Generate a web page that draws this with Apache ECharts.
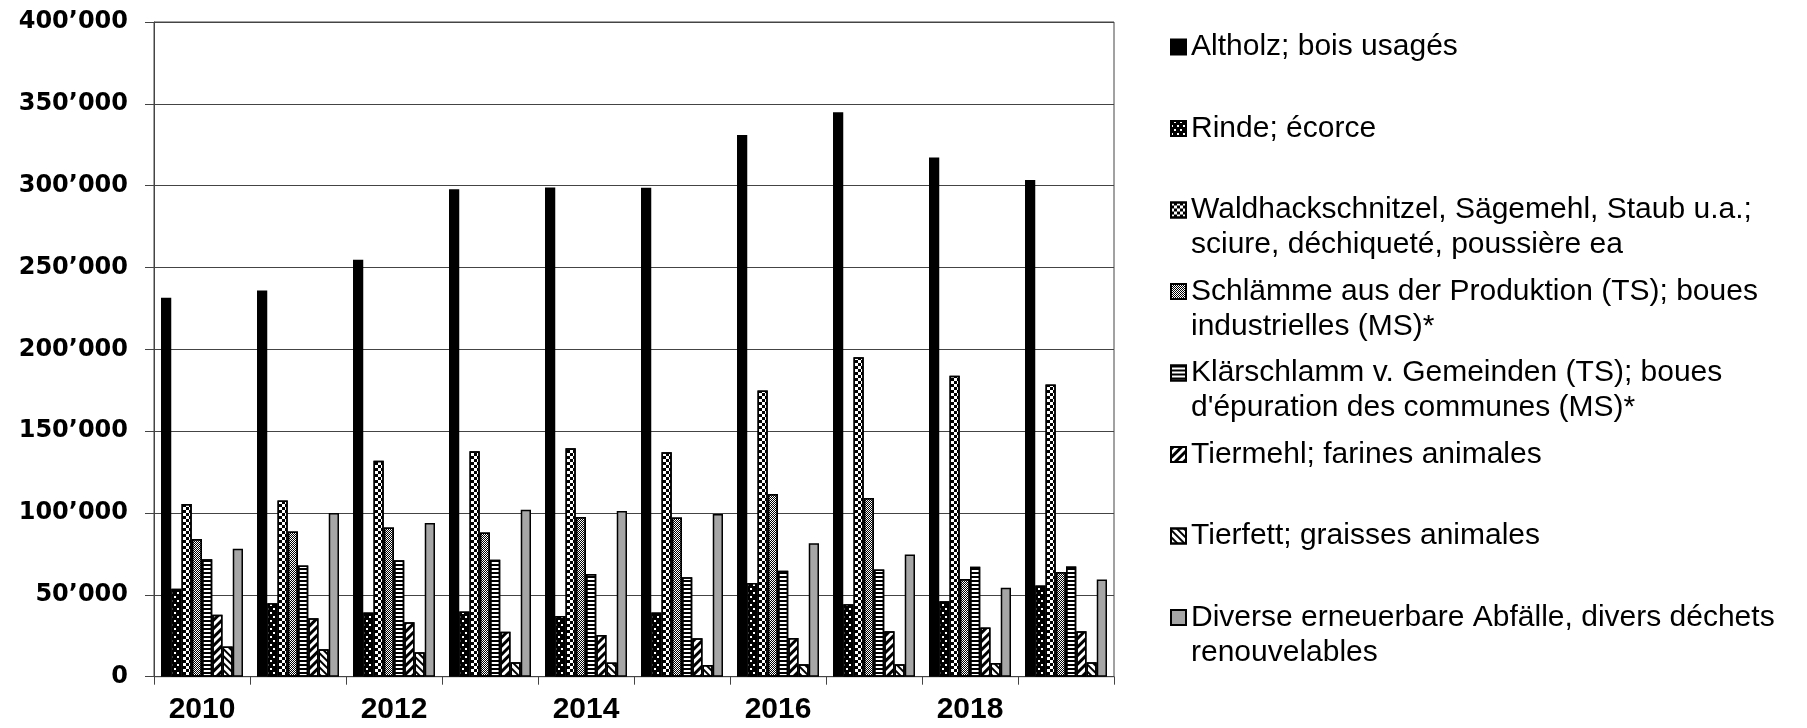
<!DOCTYPE html>
<html>
<head>
<meta charset="utf-8">
<script src="https://cdn.jsdelivr.net/npm/echarts@6/dist/echarts.min.js"></script>
<style>
html,body{margin:0;padding:0;background:#fff;}
#chart{width:1807px;height:728px;}
</style>
</head>
<body>
<div id="chart"></div>
<script>
var years = ['2010','2011','2012','2013','2014','2015','2016','2017','2018','2019'];
var altholz  = [231500, 236000, 254800, 297800, 298900, 298700, 331000, 344800, 317200, 303400];
var rinde    = [53700, 44900, 39200, 39800, 37100, 39200, 57300, 44200, 46100, 55700];
var wald     = [105500, 107700, 132000, 137700, 139500, 137100, 174900, 195200, 183800, 178600];
var schlamme = [84100, 88700, 91200, 88100, 97500, 97300, 111600, 109200, 59700, 63900];
var klar     = [71800, 67900, 71200, 71400, 62800, 60800, 64800, 65500, 67100, 67400];
var tiermehl = [37800, 35700, 33300, 27400, 25500, 23500, 23700, 27700, 30000, 27700];
var tierfett = [18400, 16800, 14900, 8800, 8600, 7200, 7600, 7600, 8300, 8800];
var diverse  = [78100, 100000, 93900, 102000, 101200, 99400, 81600, 74700, 54300, 59400];

var legendLine1 = [
  'Altholz; bois usagés',
  'Rinde; écorce',
  'Waldhackschnitzel, Sägemehl, Staub u.a.;',
  'Schlämme aus der Produktion (TS); boues',
  'Klärschlamm v. Gemeinden (TS); boues',
  'Tiermehl; farines animales',
  'Tierfett; graisses animales',
  'Diverse erneuerbare Abfälle, divers déchets'
];
var legendLine2 = [
  '',
  '',
  'sciure, déchiqueté, poussière ea',
  'industrielles (MS)*',
  "d'épuration des communes (MS)*",
  '',
  '',
  'renouvelables'
];
var yTicks = [0, 50000, 100000, 150000, 200000, 250000, 300000, 350000, 400000];

var seriesData = [altholz, rinde, wald, schlamme, klar, tiermehl, tierfett, diverse];
var seriesNames = legendLine1.map(function (l, i) { return legendLine2[i] ? l + ' ' + legendLine2[i] : l; });

var styles = [
  { color: '#000' },
  { color: '#000', decal: { symbol: 'rect', color: '#fff', dashArrayX: [[2, 4], [0, 3, 2, 1]], dashArrayY: [2, 2], symbolSize: 1 } },
  { color: '#fff', decal: { symbol: 'rect', color: '#000', dashArrayX: [[3, 3], [0, 3, 3, 0]], dashArrayY: [3, 0], symbolSize: 1 } },
  { color: '#fff', decal: { symbol: 'rect', color: '#000', dashArrayX: [[1, 1], [0, 1, 1, 0]], dashArrayY: [1, 0], symbolSize: 1 } },
  { color: '#fff', decal: { symbol: 'rect', color: '#000', dashArrayX: [4, 0], dashArrayY: [2, 2], symbolSize: 1, symbolKeepAspect: false } },
  { color: '#fff', decal: { symbol: 'rect', color: '#000', dashArrayX: [1, 0], dashArrayY: [3, 3], symbolSize: 1, symbolKeepAspect: false, rotation: -Math.PI / 4 } },
  { color: '#fff', decal: { symbol: 'rect', color: '#000', dashArrayX: [1, 0], dashArrayY: [2, 3], symbolSize: 1, symbolKeepAspect: false, rotation: Math.PI / 4 } },
  { color: '#a6a6a6' }
];

function fmtNum(v) {
  var s = String(Math.round(v));
  return s.replace(/\B(?=(\d{3})+(?!\d))/g, '\u2019');
}

var lh = 35;
var legends = seriesNames.map(function (name, i) {
  var c = 47 + 81.5 * i;
  return {
    data: [name],
    orient: 'vertical',
    left: 1170,
    top: c - 1.5 * lh,
    padding: 0,
    itemWidth: 15,
    itemHeight: 15,
    icon: 'rect',
    selectedMode: false,
    formatter: function () { return '\n' + legendLine1[i] + '\n' + (legendLine2[i] || ' '); },
    textStyle: { fontFamily: '"Liberation Sans", Arial, sans-serif', fontSize: 30, color: '#000', lineHeight: lh }
  };
});

var series = seriesData.map(function (d, i) {
  return {
    name: seriesNames[i],
    type: 'bar',
    data: d,
    barGap: '0%',
    barCategoryGap: '14.6%',
    itemStyle: Object.assign({ borderColor: '#000', borderWidth: 1.5 }, styles[i]),
    emphasis: { disabled: true },
    animation: false
  };
});

var chart = echarts.init(document.getElementById('chart'), null, { renderer: 'canvas' });
chart.setOption({
  backgroundColor: '#fff',
  animation: false,
  legend: legends,
  grid: {
    left: 154, right: 693, top: 22, bottom: 51.3,
    show: true, borderColor: '#444', borderWidth: 1
  },
  xAxis: {
    type: 'category',
    data: years,
    boundaryGap: true,
    axisLine: { show: true, lineStyle: { color: '#444', width: 1 } },
    axisTick: { show: true, interval: 0, length: 8, inside: false, lineStyle: { color: '#444' } },
    axisLabel: {
      interval: 1,
      margin: 18,
      fontFamily: '"Liberation Sans", Arial, sans-serif',
      fontWeight: 'bold',
      fontSize: 30,
      color: '#000'
    },
    splitLine: { show: false }
  },
  yAxis: {
    type: 'value',
    min: yTicks[0],
    max: yTicks[yTicks.length - 1],
    interval: yTicks[1] - yTicks[0],
    axisLine: { show: true, lineStyle: { color: '#444', width: 1 } },
    axisTick: { show: true, length: 9, inside: false, lineStyle: { color: '#444' } },
    axisLabel: {
      margin: 26,
      fontFamily: '"DejaVu Sans", sans-serif',
      fontWeight: 'bold',
      fontSize: 24,
      color: '#000',
      formatter: function (v) { return fmtNum(v); }
    },
    splitLine: { show: true, lineStyle: { color: '#444', width: 1 } }
  },
  series: series
});
</script>
</body>
</html>
